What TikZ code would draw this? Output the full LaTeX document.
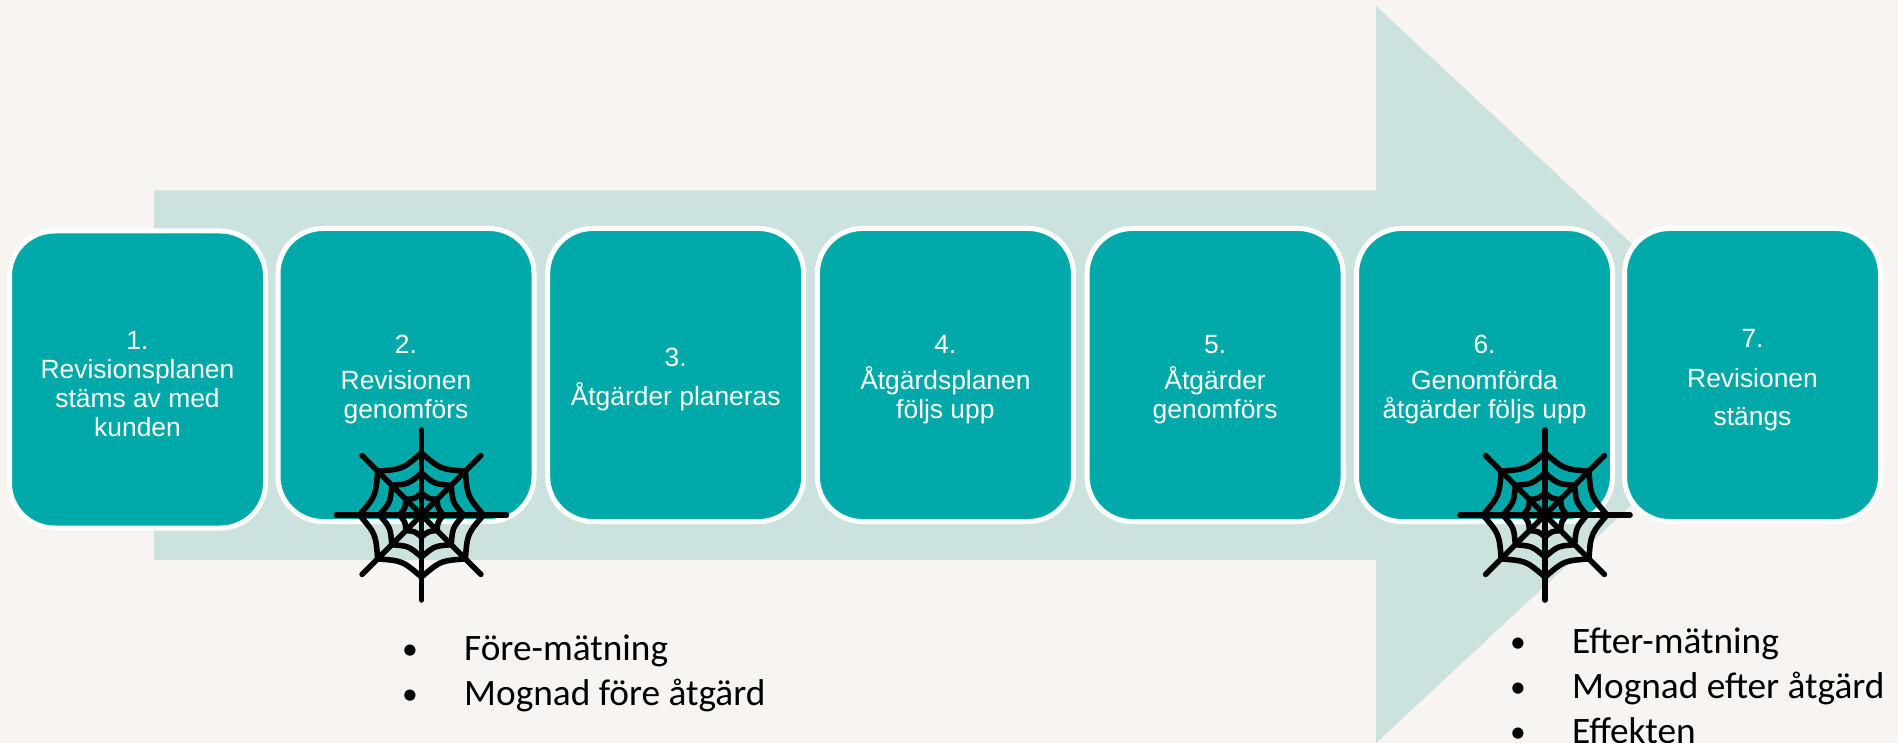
\documentclass[tikz,border=0pt]{standalone}
\usepackage{fontspec}
\setmainfont{Liberation Sans}
\newfontfamily\listfont{Carlito}
\definecolor{pagebg}{HTML}{F7F4F1}
\definecolor{arrowfill}{HTML}{CCE2DF}
\definecolor{boxfill}{HTML}{00A9A9}
\newcommand{\webicon}[2]{%
  \begin{scope}[shift={(#1,#2)},line width=5.6pt,line cap=round,line join=round,black]
    \foreach \a in {0,45,...,315}{
      \ifnum\numexpr\a/90*90\relax=\a
        \draw (0,0) -- (\a:85);
      \else
        \draw (0,0) -- (\a:84);
      \fi
      \foreach \r in {22,42,62}{
        \draw (\a:\r) .. controls (\a+22.5:0.80*\r) .. (\a+45:\r);
      }
    }
  \end{scope}}
\tikzset{
  x=1pt,y=-1pt,
  stepbox/.style={draw=white,line width=5pt,fill=boxfill,rounded corners=45pt,
    minimum width=256pt,minimum height=293pt,inner sep=0pt,text=white,align=center,
    font=\fontsize{26.4pt}{29pt}\selectfont},
  listbox/.style={anchor=north west,inner sep=0pt,align=left,text=black,
    font=\listfont\fontsize{37.3pt}{44.7pt}\selectfont},
  bigarrow/.style={fill=arrowfill,draw=none}
}
\newcommand{\tp}{\rule{0pt}{28pt}}
\newcommand{\bul}{\makebox[55pt][l]{\hspace{-7pt}\raisebox{1pt}{\scalebox{0.85}{\textbullet}}}}
\begin{document}
\begin{tikzpicture}
  \useasboundingbox (0,0) rectangle (1898,743);
  \fill[pagebg] (0,0) rectangle (1898,743);
  \begin{scope}
    \clip (0,0) rectangle (1898,743);
    \path[bigarrow] (154,190.5) -- (1376,190.5) -- (1376,6) -- (1772,374.5) -- (1376,743) -- (1376,560) -- (154,560) -- cycle;
  \end{scope}
  \node[stepbox,minimum height=297pt] (s1) at (137.5,379.5) {\tp 1.\\Revisionsplanen\\stäms av med\\kunden};
  \node[stepbox] (s2) at (406,375) {\tp 2.\\[7pt]Revisionen\\genomförs};
  \node[stepbox] (s3) at (675.7,375) {\tp 3.\\[10pt]Åtgärder planeras};
  \node[stepbox] (s4) at (945.4,375) {\tp 4.\\[7pt]Åtgärdsplanen\\följs upp};
  \node[stepbox] (s5) at (1215.1,375) {\tp 5.\\[7pt]Åtgärder\\genomförs};
  \node[stepbox] (s6) at (1484.5,375) {\tp 6.\\[7pt]Genomförda\\åtgärder följs upp};
  \node[stepbox] (s7) at (1752.5,375) {\tp 7.\\[11pt]Revisionen\\[9pt]stängs};
  \webicon{421.5}{515}
  \webicon{1545}{515}
  \node[listbox] (l1) at (409,635) {\bul Före-mätning\\\bul Mognad före åtgärd};
  \node[listbox] (l2) at (1517,628) {\bul Efter-mätning\\\bul Mognad efter åtgärd\\\bul Effekten};
\end{tikzpicture}
\end{document}
